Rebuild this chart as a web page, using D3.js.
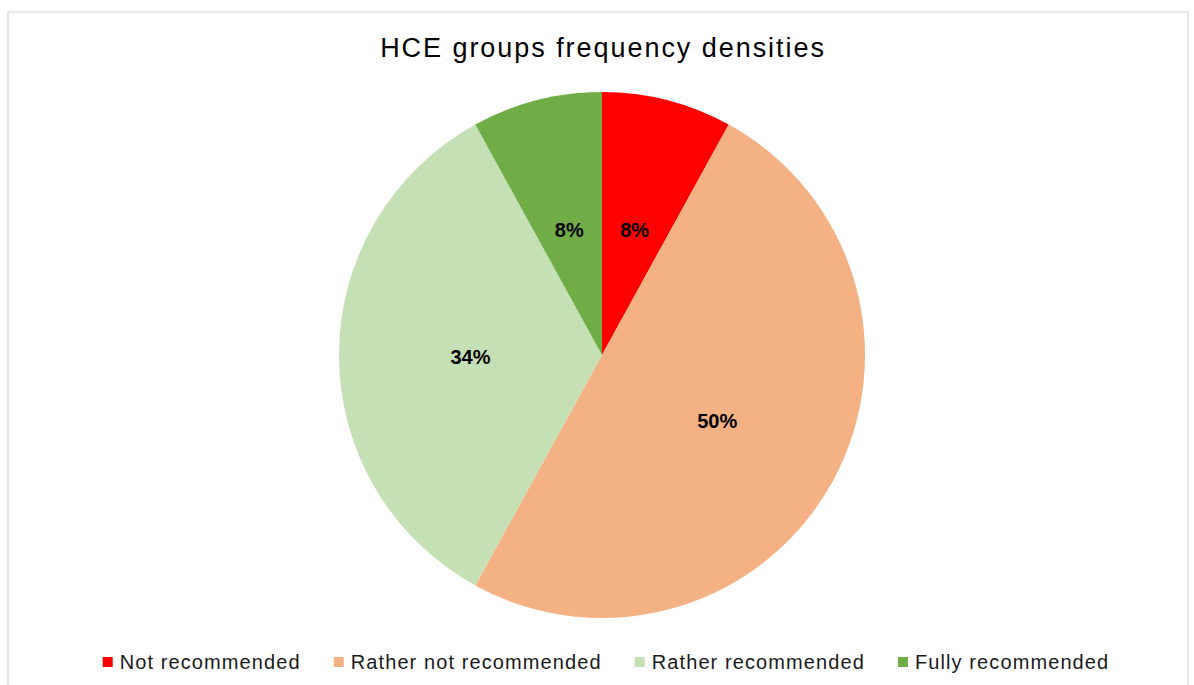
<!DOCTYPE html>
<html>
<head>
<meta charset="utf-8">
<script src="https://cdn.jsdelivr.net/npm/d3@7"></script>
<style>
  html, body { margin: 0; padding: 0; background: #fff; }
  svg { display: block; font-family: Arial, "Liberation Sans", sans-serif; }
</style>
</head>
<body>
<svg id="chart" width="1194" height="685"></svg>
<script>
// HCE group shares (percent)
const categories = ["Not recommended", "Rather not recommended", "Rather recommended", "Fully recommended"];
const shares = [8, 50, 34, 8];
const colors = ["#FF0000", "#F4B183", "#C5E0B4", "#70AD47"];
const title = "HCE groups frequency densities";

const W = 1194, H = 685;
const svg = d3.select("#chart");

// outer frame
svg.append("rect")
  .attr("x", 8).attr("y", 12)
  .attr("width", 1180).attr("height", 690)
  .attr("fill", "#fff")
  .attr("stroke", "#dcdfe5")
  .attr("stroke-width", 1.5);

// title
svg.append("text")
  .attr("x", 603).attr("y", 57)
  .attr("text-anchor", "middle")
  .attr("font-size", 27)
  .attr("letter-spacing", 1.95)
  .attr("fill", "#000")
  .text(title);

// pie
const cx = 602, cy = 355, R = 263;
const data = categories.map((c, i) => ({ name: c, value: shares[i], color: colors[i] }));
const pie = d3.pie().value(d => d.value).sort(null);
const arc = d3.arc().innerRadius(0).outerRadius(R);
const labelArc = d3.arc().innerRadius(0).outerRadius(R);

const g = svg.append("g").attr("transform", `translate(${cx},${cy})`);
const arcs = pie(data);

g.selectAll("path.slice")
  .data(arcs)
  .join("path")
  .attr("class", "slice")
  .attr("d", arc)
  .attr("fill", d => d.data.color);

g.selectAll("text.val")
  .data(arcs)
  .join("text")
  .attr("class", "val")
  .attr("transform", d => {
    const [x, y] = labelArc.centroid(d);
    return `translate(${x},${y + 2})`;
  })
  .attr("text-anchor", "middle")
  .attr("dy", "0.36em")
  .attr("font-size", 20)
  .attr("font-weight", "bold")
  .attr("fill", "#000")
  .text(d => d.data.value + "%");

// legend
const legend = svg.append("g");
const items = legend.selectAll("g.item")
  .data(data)
  .join("g")
  .attr("class", "item");

items.append("rect")
  .attr("width", 10).attr("height", 10)
  .attr("y", -12)
  .attr("fill", d => d.color);

items.append("text")
  .attr("x", 17)
  .attr("font-size", 20)
  .attr("letter-spacing", 1.1)
  .attr("fill", "#1a1a1a")
  .text(d => d.name);

const gap = 33;
const widths = [];
items.each(function() {
  widths.push(17 + d3.select(this).select("text").node().getComputedTextLength());
});
const total = d3.sum(widths) + gap * (widths.length - 1);
let x0 = 606 - total / 2;
items.attr("transform", (d, i) => {
  const t = `translate(${x0},669)`;
  x0 += widths[i] + gap;
  return t;
});
</script>
</body>
</html>
